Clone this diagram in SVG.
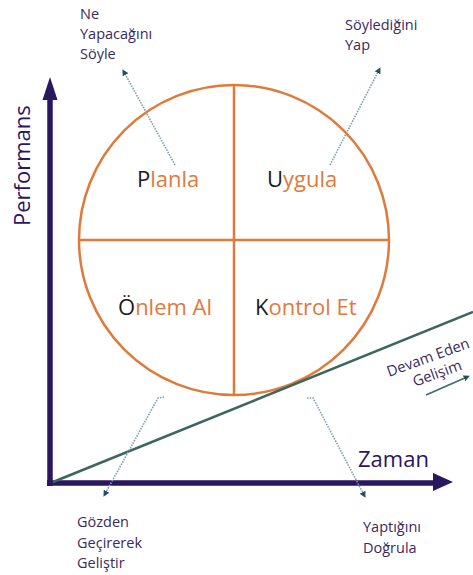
<svg xmlns="http://www.w3.org/2000/svg" width="473" height="575" viewBox="0 0 473 575">
<defs>
<style>
.lbl{font-family:"Open Sans","Liberation Sans",sans-serif;font-size:14.5px;fill:#3a2a60}
.q{font-family:"Open Sans","Liberation Sans",sans-serif;font-size:22px;fill:#e07a3a}
.k{fill:#1a1a1a}
.ax{font-family:"Open Sans","Liberation Sans",sans-serif;font-size:22px;fill:#2b1660}
.dot{stroke:#7f9ea6;stroke-width:1.6;stroke-dasharray:1.5 1.2;fill:none}
.orange{stroke:#e07a3a;stroke-width:2.5;fill:none}
</style>
<marker id="dh" viewBox="0 0 10 10" refX="5" refY="5" markerWidth="4" markerHeight="4" orient="auto" markerUnits="strokeWidth">
<path d="M0,0 L10,5 L0,10 z" fill="#24505c"/>
</marker>
<marker id="gh" viewBox="0 0 10 10" refX="5" refY="5" markerWidth="3.5" markerHeight="3.5" orient="auto" markerUnits="strokeWidth">
<path d="M0,0 L10,5 L0,10 z" fill="#24505c"/>
</marker>
</defs>
<rect width="473" height="575" fill="#ffffff"/>
<g id="cycle">
<circle class="orange" cx="234" cy="240" r="155"/>
<line class="orange" x1="234" y1="85" x2="234" y2="395"/>
<line class="orange" x1="79" y1="240" x2="389" y2="240"/>
</g>
<g id="connectors">
<line x1="50" y1="486" x2="50" y2="98" stroke="#2b1660" stroke-width="5.5"/>
<path d="M50,77 L57.5,100 L42.5,100 z" fill="#2b1660"/>
<line x1="47" y1="483" x2="435" y2="483" stroke="#2b1660" stroke-width="5.5"/>
<path d="M453,482 L433,473 L433,491 z" fill="#2b1660"/>
<line x1="53" y1="482" x2="473" y2="312" stroke="#3d665f" stroke-width="2.5"/>
<line class="dot" x1="175" y1="165" x2="124" y2="72" marker-end="url(#dh)"/>
<line class="dot" x1="330" y1="165" x2="379" y2="70" marker-end="url(#dh)"/>
<path class="dot" d="M164,397 L158,398 L105,494" marker-end="url(#dh)"/>
<path class="dot" d="M307,398 L313,398 L364,495" marker-end="url(#dh)"/>
<line x1="426" y1="395" x2="467" y2="377" stroke="#3d6e74" stroke-width="1.8" marker-end="url(#gh)"/>
</g>
<g id="plan"><text class="q" x="137" y="187"><tspan class="k">P</tspan>lanla</text></g>
<g id="do"><text class="q" x="267" y="187"><tspan class="k">U</tspan>ygula</text></g>
<g id="act"><text class="q" x="118" y="315"><tspan class="k">Ö</tspan>nlem Al</text></g>
<g id="check"><text class="q" x="255" y="315"><tspan class="k">K</tspan>ontrol Et</text></g>
<g id="label-tl"><text class="lbl"><tspan x="80" y="19">Ne</tspan><tspan x="80" y="39">Yapacağını</tspan><tspan x="80" y="59">Söyle</tspan></text></g>
<g id="label-tr"><text class="lbl"><tspan x="345" y="30">Söylediğini</tspan><tspan x="345" y="50">Yap</tspan></text></g>
<g id="label-bl"><text class="lbl"><tspan x="77" y="527">Gözden</tspan><tspan x="77" y="548">Geçirerek</tspan><tspan x="77" y="568">Geliştir</tspan></text></g>
<g id="label-br"><text class="lbl"><tspan x="363" y="532">Yaptığını</tspan><tspan x="363" y="553">Doğrula</tspan></text></g>
<g id="label-dev"><text class="lbl" style="font-size:14.8px" transform="translate(389,377) rotate(-20)"><tspan x="0" y="0">Devam Eden</tspan><tspan x="21" y="18">Gelişim</tspan></text></g>
<g id="axis-x"><text class="ax" x="358" y="467">Zaman</text></g>
<g id="axis-y"><text class="ax" transform="translate(30,226) rotate(-90)">Performans</text></g>
</svg>
